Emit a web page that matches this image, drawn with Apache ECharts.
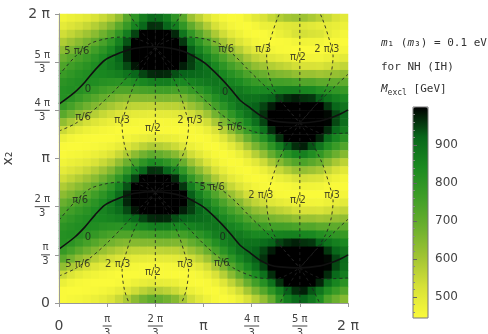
<!DOCTYPE html>
<html>
<head>
<meta charset="utf-8">
<title>M_excl over x1, x2</title>
<script src="https://cdn.jsdelivr.net/npm/echarts@6.0.0/dist/echarts.min.js"></script>
<style>
html, body { margin: 0; padding: 0; background: #fff; }
#chart { width: 488px; height: 334px; }
</style>
</head>
<body>
<div id="chart"></div>
<script>
// M_excl [GeV]: 36 x 36 cells, top row (x2 = 2pi) first, x1 = 0 on the left
var mexclRows = [
    [465,477,488,502,521,546,576,626,720,800,870,910,905,870,800,720,614,564,518,478,455,445,448,470,502,520,550,580,600,610,610,590,570,550,520,500],
    [495,513,530,551,577,609,651,712,780,854,917,963,959,921,871,793,704,640,581,527,487,460,449,445,457,477,480,495,505,510,510,500,490,495,485,475],
    [536,558,582,608,639,679,727,794,869,949,1000,1000,1000,1000,970,887,792,721,657,590,538,497,472,453,445,447,461,479,496,521,530,522,514,490,471,458],
    [584,611,639,667,703,745,795,861,935,1000,1000,1000,1000,1000,1000,958,871,798,732,661,601,551,516,483,462,451,445,447,452,463,469,466,463,452,447,445],
    [636,664,695,724,760,800,846,905,971,1000,1000,1000,1000,1000,1000,999,926,862,801,733,671,617,575,532,500,483,462,453,449,445,445,445,445,447,452,460],
    [688,716,747,773,806,839,875,920,971,1000,1000,1000,1000,1000,1000,1000,954,904,856,798,741,686,644,595,560,537,508,494,483,470,465,464,463,475,487,498],
    [736,761,787,809,834,856,878,906,943,984,1000,1000,1000,1000,1000,977,950,921,890,849,802,754,715,667,629,608,580,564,551,533,523,523,519,533,546,558],
    [775,795,815,829,844,848,856,867,890,918,946,967,971,968,938,922,917,909,899,880,848,814,782,740,706,688,665,653,644,627,614,615,605,612,621,630],
    [804,818,828,830,829,816,810,807,818,833,851,865,870,871,850,847,860,869,880,888,876,857,839,806,780,770,756,756,752,742,726,727,710,709,707,707],
    [819,825,818,802,787,761,746,734,734,738,747,754,761,762,750,757,783,805,834,868,881,881,878,859,845,846,847,859,864,864,849,846,823,808,792,783],
    [819,805,777,749,724,693,673,655,648,644,647,647,656,658,653,664,697,727,768,822,857,882,897,895,894,907,923,948,966,976,962,957,924,893,865,845],
    [783,751,712,679,651,620,599,578,567,561,559,556,563,565,565,579,613,643,689,753,806,854,891,908,923,947,979,1000,1000,1000,1000,1000,1000,957,918,889],
    [715,673,632,601,576,550,532,513,503,495,491,488,494,494,498,508,536,564,608,673,735,797,853,893,928,963,1000,1000,1000,1000,1000,1000,1000,994,946,911],
    [629,589,555,530,511,493,481,468,461,456,453,451,453,454,456,462,481,499,536,592,654,723,787,846,899,947,1000,1000,1000,1000,1000,1000,1000,997,944,905],
    [545,514,491,476,466,457,451,446,445,446,447,450,447,447,446,445,450,458,480,523,574,640,705,775,839,896,966,1000,1000,1000,1000,1000,1000,967,912,870],
    [479,462,453,448,445,445,446,453,461,475,485,496,489,485,477,461,448,445,450,470,507,559,617,688,756,817,894,963,1000,1000,1000,1000,972,908,852,809],
    [447,445,446,448,452,458,468,488,511,539,566,587,578,566,543,512,478,461,447,446,462,495,538,599,664,723,799,867,928,964,976,935,889,827,775,731],
    [448,454,459,467,478,492,513,548,588,636,674,706,697,675,644,593,536,501,471,451,445,455,479,523,574,625,695,756,811,849,863,828,791,735,686,647],
    [465,477,488,502,521,546,576,626,682,745,798,838,829,800,758,690,614,564,518,478,455,445,448,470,502,540,596,645,690,726,742,716,689,640,596,566],
    [495,513,530,551,577,609,651,712,780,854,917,963,959,921,871,793,704,640,581,527,487,460,449,445,457,477,513,549,581,614,626,611,594,556,525,501],
    [536,558,582,608,639,679,727,794,869,949,1000,1000,1000,1000,970,887,792,721,657,590,538,497,472,453,445,447,461,479,496,521,530,522,514,490,471,458],
    [584,611,639,667,703,745,795,861,935,1000,1000,1000,1000,1000,1000,958,871,798,732,661,601,551,516,483,462,451,445,447,452,463,469,466,463,452,447,445],
    [636,664,695,724,760,800,846,905,971,1000,1000,1000,1000,1000,1000,999,926,862,801,733,671,617,575,532,500,483,462,453,449,445,445,445,445,447,452,460],
    [688,716,747,773,806,839,875,920,971,1000,1000,1000,1000,1000,1000,1000,954,904,856,798,741,686,644,595,560,537,508,494,483,470,465,464,463,475,487,498],
    [736,761,787,809,834,856,878,906,943,984,1000,1000,1000,1000,1000,977,950,921,890,849,802,754,715,667,629,608,580,564,551,533,523,523,519,533,546,558],
    [775,795,815,829,844,848,856,867,890,918,946,967,971,968,938,922,917,909,899,880,848,814,782,740,706,688,665,653,644,627,614,615,605,612,621,630],
    [804,818,828,830,829,816,810,807,818,833,851,865,870,871,850,847,860,869,880,888,876,857,839,806,780,770,756,756,752,742,726,727,710,709,707,707],
    [819,825,818,802,787,761,746,734,734,738,747,754,761,762,750,757,783,805,834,868,881,881,878,859,845,846,847,859,864,864,849,846,823,808,792,783],
    [819,805,777,749,724,693,673,655,648,644,647,647,656,658,653,664,697,727,768,822,857,882,897,895,894,907,923,948,966,976,962,957,924,893,865,845],
    [783,751,712,679,651,620,599,578,567,561,559,556,563,565,565,579,613,643,689,753,806,854,891,908,923,947,979,1000,1000,1000,1000,1000,1000,957,918,889],
    [715,673,632,601,576,550,532,513,503,495,491,488,494,494,498,508,536,564,608,673,735,797,853,893,928,963,1000,1000,1000,1000,1000,1000,1000,994,946,911],
    [629,589,555,530,511,493,481,468,461,456,453,451,453,454,456,462,481,499,536,592,654,723,787,846,899,947,1000,1000,1000,1000,1000,1000,1000,997,944,905],
    [545,514,491,476,466,457,451,446,445,446,447,450,447,447,446,445,450,458,480,523,574,640,705,775,839,896,966,1000,1000,1000,1000,1000,1000,967,912,870],
    [479,462,453,448,445,445,446,453,461,475,485,496,489,485,477,461,448,445,450,470,507,559,617,688,756,817,894,963,1000,1000,1000,1000,972,908,852,809],
    [447,445,446,448,452,458,468,488,511,539,566,587,578,566,543,512,478,461,447,446,462,495,538,599,664,723,799,867,928,964,976,935,889,827,775,731],
    [448,454,459,467,478,492,513,548,588,636,674,706,697,675,644,593,536,501,471,451,445,455,479,523,574,625,695,800,870,910,920,880,830,735,686,647]
];

// axis ticks, in units of pi/3: [numerator, denominator]
var piTicks = [['0', ''], ['π', '3'], ['2 π', '3'], ['π', ''], ['4 π', '3'], ['5 π', '3'], ['2 π', '']];
var barTicks = [500, 600, 700, 800, 900];
var barMin = 445;
var barMax = 1000;

// solid contour (phase 0), points in units of pi/3
var zeroUpper = [[0,4.13],[0.33,4.38],[0.54,4.59],[0.75,4.84],[0.95,5.04],[1.16,5.15],[1.37,5.23],[1.58,5.29],[2,5.32],[2.41,5.27],[2.62,5.21],[2.82,5.11],[3.03,4.98],[3.34,4.69],[3.55,4.46],[3.76,4.21],[3.97,4.05],[4.17,3.9],[4.38,3.8],[4.59,3.76],[5,3.74],[5.42,3.78],[5.63,3.84],[5.83,3.92],[6,4.01]];
var zeroLower = [[0,1.12],[0.33,1.37],[0.54,1.58],[0.75,1.83],[0.95,2.03],[1.16,2.14],[1.37,2.22],[1.58,2.28],[2,2.31],[2.41,2.26],[2.62,2.2],[2.82,2.1],[3.03,1.97],[3.34,1.68],[3.55,1.45],[3.76,1.2],[3.97,1.04],[4.17,0.89],[4.38,0.79],[4.59,0.75],[5,0.73],[5.42,0.77],[5.63,0.83],[5.83,0.91],[6,1.0]];

// dashed contours (other phases), units of pi/3
var phaseLines = [
    [[0,4.73],[0.33,5.11],[0.64,5.38],[0.95,5.48],[1.27,5.52],[1.68,5.46],[2,5.31]],
    [[2,5.31],[2.3,5.46],[2.72,5.52],[3.03,5.48],[3.34,5.38],[3.65,5.13],[3.97,4.8],[4.32,4.46],[4.69,4.09],[5,3.74]],
    [[5,3.74],[5.31,4.09],[5.69,4.46],[6,4.75]],
    [[0,3.57],[0.33,3.72],[0.64,3.94],[0.95,4.21],[1.27,4.53],[1.64,4.94],[2,5.31]],
    [[2,5.31],[2.35,4.94],[2.72,4.53],[3.03,4.21],[3.34,3.94],[3.65,3.72],[4.07,3.55],[4.48,3.51],[5,3.74]],
    [[5,3.74],[5.52,3.51],[6,3.53]],
    [[0,1.72],[0.33,2.1],[0.64,2.37],[0.95,2.47],[1.27,2.51],[1.68,2.45],[2,2.3]],
    [[2,2.3],[2.3,2.45],[2.72,2.51],[3.03,2.47],[3.34,2.37],[3.65,2.12],[3.97,1.79],[4.32,1.45],[4.69,1.08],[5,0.73]],
    [[5,0.73],[5.31,1.08],[5.69,1.45],[6,1.74]],
    [[0,0.56],[0.33,0.71],[0.64,0.93],[0.95,1.2],[1.27,1.52],[1.64,1.93],[2,2.3]],
    [[2,2.3],[2.35,1.93],[2.72,1.52],[3.03,1.2],[3.34,0.93],[3.65,0.71],[4.07,0.54],[4.48,0.5],[5,0.73]],
    [[5,0.73],[5.52,0.5],[6,0.52]],
    [[2,8.32],[1.79,7.99],[1.54,7.49],[1.38,7.01],[1.31,6.7],[1.36,6.29],[1.48,5.97],[1.69,5.66],[2,5.31]],
    [[2,5.31],[1.79,4.98],[1.54,4.48],[1.38,4.0],[1.31,3.69],[1.36,3.28],[1.48,2.96],[1.69,2.65],[2,2.3]],
    [[2,2.3],[1.79,1.97],[1.54,1.47],[1.38,0.99],[1.31,0.68],[1.36,0.27],[1.48,-0.05],[1.69,-0.36],[2,-0.71]],
    [[2,8.32],[2.21,7.99],[2.46,7.49],[2.62,7.01],[2.69,6.7],[2.64,6.29],[2.52,5.97],[2.31,5.66],[2,5.31]],
    [[2,5.31],[2.21,4.98],[2.46,4.48],[2.62,4.0],[2.69,3.69],[2.64,3.28],[2.52,2.96],[2.31,2.65],[2,2.3]],
    [[2,2.3],[2.21,1.97],[2.46,1.47],[2.62,0.99],[2.69,0.68],[2.64,0.27],[2.52,-0.05],[2.31,-0.36],[2,-0.71]],
    [[5,6.75],[4.79,6.42],[4.54,5.92],[4.38,5.44],[4.31,5.13],[4.36,4.72],[4.48,4.4],[4.69,4.09],[5,3.74]],
    [[5,3.74],[4.79,3.41],[4.54,2.91],[4.38,2.43],[4.31,2.12],[4.36,1.71],[4.48,1.39],[4.69,1.08],[5,0.73]],
    [[5,0.73],[4.79,0.4],[4.54,-0.1]],
    [[5,6.75],[5.21,6.42],[5.46,5.92],[5.62,5.44],[5.69,5.13],[5.64,4.72],[5.52,4.4],[5.31,4.09],[5,3.74]],
    [[5,3.74],[5.21,3.41],[5.46,2.91],[5.62,2.43],[5.69,2.12],[5.64,1.71],[5.52,1.39],[5.31,1.08],[5,0.73]],
    [[5,0.73],[5.21,0.4],[5.46,-0.1]],
    [[2,0],[2,6]],
    [[5,0],[5,6]]
];

// contour labels: x1, x2 (units of pi/3), text
var phaseLabels = [
    [0.37,5.23,'5 π/6'], [0.6,4.44,'0'], [0.5,3.86,'π/6'], [1.31,3.8,'π/3'], [1.95,3.63,'π/2'], [2.72,3.8,'2 π/3'],
    [3.47,5.27,'π/6'], [3.45,4.38,'0'], [3.55,3.65,'5 π/6'], [4.24,5.27,'π/3'], [4.96,5.09,'π/2'], [5.56,5.27,'2 π/3'],
    [0.44,2.14,'π/6'], [0.6,1.37,'0'], [0.39,0.81,'5 π/6'], [1.22,0.81,'2 π/3'], [1.95,0.64,'π/2'], [2.62,0.81,'π/3'],
    [3.18,2.39,'5 π/6'], [3.4,1.37,'0'], [3.38,0.83,'π/6'], [4.19,2.24,'2 π/3'], [4.96,2.12,'π/2'], [5.67,2.24,'π/3']
];

var chart = echarts.init(document.getElementById('chart'), null, {renderer: 'canvas'});

var nRow = mexclRows.length;
var nCol = mexclRows[0].length;
var xCells = [];
var yCells = [];
for (var j = 0; j < nCol; j++) xCells.push(j);
for (var k = 0; k < nRow; k++) yCells.push(k);
var heatData = [];
for (var k = 0; k < nRow; k++) {
    for (var j = 0; j < nCol; j++) {
        heatData.push([j, nRow - 1 - k, mexclRows[k][j]]);
    }
}

function piLabel(v) {
    var t = piTicks[Math.round(v)];
    if (!t) return '';
    if (t[1] === '') return '{big|' + t[0] + '}';
    var bar = t[0].length > 1 ? 'barL' : 'barS';
    return '{num|' + t[0] + '}\n{' + bar + '| }\n{den|' + t[1] + '}';
}

var piRich = {
    big: {fontSize: 14, lineHeight: 16, color: '#444'},
    num: {fontSize: 10, lineHeight: 11, color: '#444', align: 'center'},
    den: {fontSize: 10, lineHeight: 11, color: '#444', align: 'center'},
    barS: {fontSize: 1, width: 9, height: 1, lineHeight: 3, backgroundColor: '#444', align: 'center'},
    barL: {fontSize: 1, width: 15, height: 1, lineHeight: 3, backgroundColor: '#444', align: 'center'}
};

var series = [{
    type: 'heatmap',
    xAxisIndex: 0,
    yAxisIndex: 0,
    data: heatData,
    silent: true,
    emphasis: {disabled: true}
}];
phaseLines.forEach(function(pts) {
    series.push({
        type: 'line',
        xAxisIndex: 1,
        yAxisIndex: 1,
        data: pts,
        showSymbol: false,
        smooth: 0.3,
        silent: true,
        lineStyle: {color: '#222', width: 1, type: [3, 3], opacity: 0.85},
        z: 4
    });
});
[zeroUpper, zeroLower].forEach(function(pts) {
    series.push({
        type: 'line',
        xAxisIndex: 1,
        yAxisIndex: 1,
        data: pts,
        showSymbol: false,
        smooth: 0.3,
        silent: true,
        lineStyle: {color: '#111', width: 1.6},
        z: 5
    });
});
series.push({
    type: 'scatter',
    xAxisIndex: 1,
    yAxisIndex: 1,
    silent: true,
    symbolSize: 1,
    itemStyle: {color: 'rgba(0,0,0,0)'},
    data: phaseLabels.map(function(d) { return {value: [d[0], d[1]], name: d[2]}; }),
    label: {show: true, position: 'inside', formatter: '{b}', fontSize: 10, color: '#1e1e1e'},
    z: 6
});

chart.setOption({
    animation: false,
    textStyle: {fontFamily: 'DejaVu Sans'},
    grid: [
        {left: 59, top: 14, width: 289, height: 289, outerBoundsMode: 'none'},
        {left: 413, top: 107, width: 15, height: 211, outerBoundsMode: 'none',
         show: true, backgroundColor: 'transparent', borderColor: '#777', borderWidth: 1, z: 10}
    ],
    xAxis: [
        {type: 'category', gridIndex: 0, data: xCells, position: 'top', z: 10,
         axisLine: {lineStyle: {color: '#aaa'}}, axisTick: {show: false}, axisLabel: {show: false}, splitLine: {show: false}},
        {type: 'value', gridIndex: 0, min: 0, max: 6, interval: 1, position: 'bottom', z: 10,
         axisLine: {onZero: false, lineStyle: {color: '#999'}},
         axisTick: {length: 4, lineStyle: {color: '#999'}},
         splitLine: {show: false},
         axisLabel: {formatter: piLabel, rich: piRich, margin: 23, verticalAlign: 'middle', color: '#444'}},
        {type: 'value', gridIndex: 1, min: 0, max: 1, show: false}
    ],
    yAxis: [
        {type: 'category', gridIndex: 0, data: yCells, position: 'right', z: 10,
         axisLine: {lineStyle: {color: '#aaa'}}, axisTick: {show: false}, axisLabel: {show: false}, splitLine: {show: false}},
        {type: 'value', gridIndex: 0, min: 0, max: 6, interval: 1, position: 'left', z: 10,
         name: 'x₂', nameLocation: 'middle', nameGap: 44, nameRotate: 90,
         nameTextStyle: {fontSize: 14, color: '#444'},
         axisLine: {onZero: false, lineStyle: {color: '#999'}},
         axisTick: {length: 4, lineStyle: {color: '#999'}},
         splitLine: {show: false},
         axisLabel: {formatter: piLabel, rich: piRich, margin: 9, color: '#444'}},
        {type: 'value', gridIndex: 1, min: barMin, max: barMax, position: 'right', z: 11,
         axisLine: {show: false}, splitLine: {show: false},
         axisTick: {show: true, customValues: barTicks, length: 4, lineStyle: {color: '#666'}},
         minorTick: {show: true, splitNumber: 5, length: 2, lineStyle: {color: '#888'}},
         axisLabel: {customValues: barTicks, margin: 7, fontSize: 12, color: '#444'}}
    ],
    visualMap: {
        type: 'continuous',
        seriesIndex: 0,
        min: barMin,
        max: barMax,
        calculable: false,
        left: 413,
        top: 107,
        itemWidth: 15,
        itemHeight: 211,
        padding: 0,
        inRange: {
            color: ['#fafa3a', '#d8e238', '#a2c533', '#6cb02e', '#3f9e27', '#1b8a21', '#08661a', '#000000']
        }
    },
    graphic: [
        {type: 'text', left: 381, top: 38,
         style: {text: '{i|m}₁ ({i|m}₃) = 0.1 eV', fontSize: 11, fontFamily: 'DejaVu Sans Mono', fill: '#333',
                 rich: {i: {fontSize: 11, fontFamily: 'DejaVu Sans Mono', fontStyle: 'italic', fill: '#333'}}}},
        {type: 'text', left: 381, top: 62,
         style: {text: 'for NH (IH)', fontSize: 11, fontFamily: 'DejaVu Sans Mono', fill: '#333'}},
        {type: 'text', left: 381, top: 84,
         style: {text: '{i|M}{s|excl}{t| [GeV]}', fontSize: 11, fontFamily: 'DejaVu Sans Mono', fill: '#333',
                 rich: {
                     i: {fontSize: 11, lineHeight: 14, fontFamily: 'DejaVu Sans Mono', fontStyle: 'italic', fill: '#333'},
                     s: {fontSize: 8, fontFamily: 'DejaVu Sans Mono', fill: '#333', verticalAlign: 'bottom'},
                     t: {fontSize: 11, lineHeight: 14, fontFamily: 'DejaVu Sans Mono', fill: '#333'}
                 }}}
    ],
    series: series
});
</script>
</body>
</html>
